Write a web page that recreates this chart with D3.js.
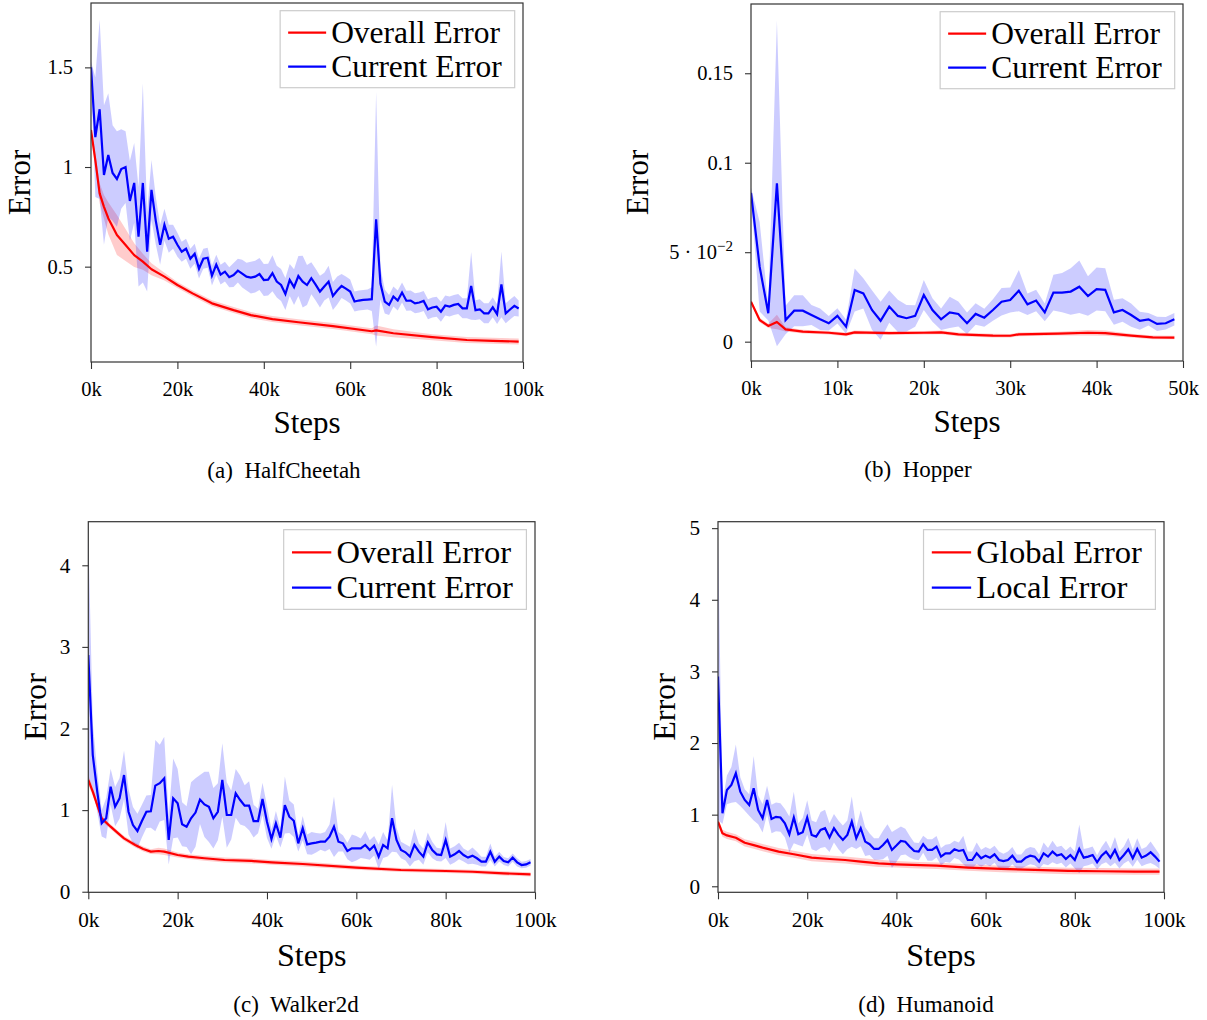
<!DOCTYPE html>
<html><head><meta charset="utf-8">
<script src="https://cdn.jsdelivr.net/npm/d3@7"></script>
<style>
body{margin:0;background:#fff}
svg{display:block}
text{font-family:"Liberation Serif","Times New Roman",Times,serif;fill:#000}
</style>
</head><body>
<svg id="chart" width="1207" height="1020"></svg>
<script>
// ---------- DATA ----------
// step grid (thousands of steps) for the "current/local" error series
const steps1k = d3.range(0, 100);      // 0k..99k
const steps1kHalf = d3.range(0, 50);   // 0k..49k

// (a) HalfCheetah
const aBlue = [1.50,1.15,1.29,0.96,1.06,0.97,0.94,0.99,1.00,0.83,
 0.92,0.65,0.92,0.575,0.885,0.73,0.61,0.71,0.64,0.65,
 0.61,0.575,0.59,0.54,0.565,0.49,0.54,0.545,0.455,0.51,
 0.46,0.475,0.447,0.458,0.48,0.465,0.45,0.445,0.45,0.463,
 0.433,0.435,0.467,0.425,0.408,0.363,0.433,0.397,0.453,0.425,
 0.408,0.442,0.41,0.375,0.40,0.425,0.353,0.38,0.403,0.39,
 0.375,0.325,0.33,0.333,0.335,0.337,0.738,0.415,0.325,0.308,
 0.35,0.33,0.37,0.329,0.33,0.316,0.32,0.328,0.286,0.295,
 0.299,0.274,0.305,0.30,0.308,0.313,0.291,0.291,0.403,0.282,
 0.286,0.266,0.266,0.296,0.262,0.411,0.266,0.285,0.303,0.29];
const aBlueSd = [0.03,0.3,0.45,0.35,0.31,0.24,0.24,0.2,0.18,0.2,
 0.2,0.25,0.5,0.2,0.15,0.12,0.1,0.08,0.07,0.06,
 0.06,0.05,0.05,0.05,0.05,0.05,0.05,0.05,0.05,0.05,
 0.05,0.05,0.05,0.06,0.06,0.07,0.07,0.08,0.08,0.08,
 0.08,0.08,0.09,0.08,0.08,0.08,0.08,0.09,0.1,0.13,
 0.1,0.08,0.08,0.08,0.07,0.08,0.07,0.07,0.06,0.06,
 0.06,0.05,0.05,0.05,0.05,0.06,0.64,0.08,0.06,0.05,
 0.05,0.05,0.05,0.05,0.05,0.05,0.05,0.05,0.05,0.05,
 0.05,0.05,0.05,0.05,0.05,0.05,0.05,0.05,0.17,0.05,
 0.05,0.05,0.05,0.05,0.05,0.165,0.05,0.05,0.05,0.04];
const aRedSteps = [0,1,2,3,4,6,8,10,12,14,17,20,23.5,28,33,37,42,48,56,65,66,70,79,87,93,99];
const aRed = [1.186,1.035,0.868,0.80,0.743,0.659,0.609,0.558,0.525,0.487,0.45,0.408,0.366,0.316,0.282,0.257,0.237,0.221,0.202,0.176,0.18,0.166,0.146,0.132,0.128,0.124];
const aRedSd = [0.02,0.03,0.05,0.06,0.08,0.1,0.08,0.06,0.04,0.03,0.02,0.015,0.015,0.015,0.015,0.015,0.015,0.015,0.015,0.015,0.025,0.02,0.015,0.015,0.015,0.015];

// (b) Hopper
const bBlue = [0.0832,0.0419,0.0159,0.0885,0.0121,0.0173,0.0173,0.0149,0.0125,0.0103,
 0.0144,0.0084,0.0289,0.027,0.0177,0.0117,0.0196,0.0144,0.0131,0.0144,
 0.0261,0.0177,0.0125,0.0164,0.0155,0.0103,0.0155,0.0134,0.0177,0.0223,
 0.0233,0.0285,0.0209,0.023,0.0164,0.0274,0.0274,0.028,0.0307,0.0255,
 0.0294,0.029,0.0164,0.0177,0.0149,0.0117,0.0125,0.0099,0.0103,0.0125];
const bBlueSd = [0.003,0.025,0.004,0.091,0.008,0.0087,0.0087,0.0056,0.006,0.004,
 0.0043,0.004,0.012,0.0085,0.011,0.0106,0.009,0.009,0.0074,0.006,
 0.0084,0.0065,0.006,0.0087,0.007,0.006,0.006,0.005,0.006,0.0077,
 0.007,0.0115,0.006,0.006,0.005,0.01,0.011,0.013,0.0147,0.011,
 0.012,0.012,0.007,0.0065,0.0065,0.005,0.0035,0.004,0.0035,0.0035];
const bRedSteps = [0,1,2,3,4,6,9,11,12,16,20,22,24,28,30,31,35.5,39,41,44,46.5,49];
const bRed = [0.0223,0.0121,0.0088,0.011,0.0069,0.0056,0.005,0.0041,0.0052,0.0048,0.005,0.0052,0.0041,0.0034,0.0033,0.0041,0.0045,0.005,0.0048,0.0034,0.0024,0.0023];
const bRedSd = [0.001,0.0012,0.0012,0.004,0.0012,0.001,0.001,0.001,0.001,0.001,0.001,0.001,0.001,0.001,0.001,0.001,0.001,0.0015,0.0015,0.001,0.001,0.001];

// (c) Walker2d
const cBlue = [2.90,1.675,1.226,0.838,0.90,1.287,1.042,1.144,1.43,0.98,
 0.817,0.744,0.866,0.98,0.985,1.30,1.33,1.39,0.634,1.144,
 1.083,0.826,0.797,0.90,0.97,1.13,1.07,1.04,0.90,0.98,
 1.369,0.94,0.94,1.205,1.124,1.054,1.054,0.866,0.866,1.136,
 0.858,0.646,0.838,0.662,1.062,0.919,0.87,0.593,0.777,0.58,
 0.593,0.601,0.613,0.613,0.674,0.797,0.613,0.593,0.499,0.532,
 0.532,0.532,0.573,0.511,0.564,0.43,0.573,0.532,0.90,0.634,
 0.511,0.483,0.43,0.573,0.491,0.43,0.605,0.511,0.458,0.45,
 0.634,0.43,0.458,0.499,0.45,0.418,0.442,0.41,0.368,0.368,
 0.49,0.368,0.43,0.377,0.36,0.418,0.36,0.327,0.335,0.36];
const cBlueSd = [1.5,0.4,0.25,0.16,0.25,0.22,0.24,0.25,0.3,0.28,
 0.22,0.21,0.2,0.2,0.2,0.56,0.47,0.51,0.3,0.49,
 0.42,0.27,0.25,0.44,0.42,0.3,0.4,0.43,0.37,0.35,
 0.45,0.4,0.3,0.3,0.3,0.25,0.3,0.2,0.15,0.2,
 0.2,0.12,0.15,0.12,0.35,0.2,0.2,0.1,0.15,0.12,
 0.14,0.12,0.1,0.12,0.15,0.37,0.12,0.1,0.1,0.17,
 0.15,0.12,0.17,0.12,0.12,0.15,0.16,0.1,0.41,0.15,
 0.1,0.1,0.12,0.2,0.1,0.1,0.12,0.1,0.08,0.08,
 0.22,0.1,0.1,0.1,0.08,0.08,0.1,0.08,0.06,0.06,
 0.1,0.06,0.06,0.05,0.05,0.05,0.05,0.04,0.04,0.04];
const cRedSteps = [0,1,2,3,5,6.7,8,10.5,12.3,14,15.7,17,20,22.4,26,30.5,36.5,41,48,60,70,80,86,93,99];
const cRed = [1.369,1.226,1.062,0.899,0.797,0.715,0.654,0.573,0.524,0.491,0.499,0.491,0.45,0.43,0.41,0.389,0.377,0.36,0.34,0.295,0.266,0.254,0.245,0.225,0.213];
const cRedSd = [0.06,0.05,0.04,0.03,0.03,0.03,0.03,0.03,0.03,0.03,0.04,0.04,0.03,0.03,0.03,0.03,0.03,0.03,0.03,0.025,0.025,0.025,0.025,0.025,0.025];

// (d) Humanoid
const dBlue = [2.93,1.02,1.345,1.415,1.578,1.321,1.205,1.135,1.369,1.066,
 0.95,1.205,0.94,0.97,0.96,0.88,0.726,0.96,0.726,0.754,
 0.96,0.717,0.694,0.786,0.81,0.68,0.81,0.717,0.647,0.717,
 0.903,0.67,0.81,0.624,0.587,0.521,0.521,0.577,0.647,0.507,
 0.568,0.633,0.623,0.553,0.493,0.484,0.587,0.507,0.507,0.553,
 0.414,0.46,0.46,0.516,0.493,0.507,0.367,0.367,0.46,0.391,
 0.428,0.40,0.447,0.367,0.353,0.367,0.428,0.344,0.344,0.40,
 0.428,0.414,0.344,0.46,0.414,0.484,0.428,0.447,0.381,0.437,
 0.367,0.521,0.40,0.414,0.437,0.335,0.428,0.484,0.40,0.507,
 0.367,0.437,0.516,0.391,0.521,0.40,0.428,0.475,0.414,0.344];
const dBlueSd = [2.0,0.15,0.2,0.25,0.4,0.2,0.15,0.15,0.45,0.2,
 0.2,0.2,0.2,0.2,0.2,0.2,0.25,0.36,0.15,0.2,
 0.24,0.2,0.2,0.25,0.26,0.2,0.2,0.2,0.2,0.2,
 0.35,0.15,0.25,0.2,0.15,0.15,0.15,0.2,0.22,0.25,
 0.23,0.2,0.18,0.15,0.12,0.12,0.12,0.15,0.15,0.15,
 0.12,0.12,0.13,0.12,0.12,0.2,0.12,0.12,0.15,0.12,
 0.12,0.12,0.12,0.12,0.1,0.12,0.12,0.1,0.1,0.12,
 0.12,0.12,0.1,0.15,0.12,0.15,0.12,0.12,0.12,0.12,
 0.12,0.34,0.12,0.12,0.12,0.1,0.12,0.15,0.12,0.18,
 0.12,0.12,0.16,0.12,0.15,0.12,0.12,0.15,0.12,0.1];
const dRedSteps = [0,1,2,4,6,8,10,13.6,17,21,25,28.5,32,36,40,43.5,49,56,63.5,71,78.5,86,93.5,99];
const dRed = [0.902,0.74,0.71,0.677,0.607,0.575,0.54,0.484,0.447,0.40,0.381,0.367,0.344,0.32,0.307,0.298,0.288,0.261,0.242,0.228,0.214,0.21,0.205,0.205];
const dRedSd = [0.05,0.05,0.05,0.05,0.05,0.05,0.05,0.05,0.05,0.05,0.05,0.05,0.05,0.05,0.045,0.045,0.045,0.045,0.045,0.045,0.045,0.045,0.045,0.045];

// ticks & labels
const xTicks100 = [0,20,40,60,80,100];
const xTicks50 = [0,10,20,30,40,50];
const aYTicks = [0.5,1,1.5];
const bYTicks = [0,0.05,0.1,0.15];
const bYTickLabels = ["0","5·10^−2","0.1","0.15"];
const cYTicks = [0,1,2,3,4];
const dYTicks = [0,1,2,3,4,5];
const legendAC = ["Overall Error","Current Error"];
const legendD = ["Global Error","Local Error"];
const captions = ["(a)  HalfCheetah","(b)  Hopper","(c)  Walker2d","(d)  Humanoid"];
const xLabel = "Steps", yLabel = "Error";

// ---------- LAYOUT ----------
const SERIF = '"Liberation Serif","Times New Roman",Times,serif';
const panels = [
 {left:91,right:523,top:3,bottom:362,xMax:100,xTicks:xTicks100,yDomain:[0.0216,1.823],yTicks:aYTicks,
  steps:steps1k,blue:aBlue,blueSd:aBlueSd,redSteps:aRedSteps,red:aRed,redSd:aRedSd,
  legend:legendAC,caption:captions[0],capX:284,yLabX:30,s:1},
 {left:751,right:1183,top:4,bottom:361,xMax:50,xTicks:xTicks50,yDomain:[-0.0108,0.1887],yTicks:bYTicks,yTickLabels:bYTickLabels,
  steps:steps1kHalf,blue:bBlue,blueSd:bBlueSd,redSteps:bRedSteps,red:bRed,redSd:bRedSd,
  legend:legendAC,caption:captions[1],capX:918,yLabX:648,s:1},
 {left:88.3,right:535,top:521.7,bottom:892.3,xMax:100,xTicks:xTicks100,yDomain:[-0.007,4.534],yTicks:cYTicks,
  steps:steps1k,blue:cBlue,blueSd:cBlueSd,redSteps:cRedSteps,red:cRed,redSd:cRedSd,
  legend:legendAC,caption:captions[2],capX:296,yLabX:46,s:1.035},
 {left:718,right:1164,top:521.7,bottom:892.3,xMax:100,xTicks:xTicks100,yDomain:[-0.084,5.09],yTicks:dYTicks,
  steps:steps1k,blue:dBlue,blueSd:dBlueSd,redSteps:dRedSteps,red:dRed,redSd:dRedSd,
  legend:legendD,caption:captions[3],capX:926,yLabX:675,s:1.035}
];

const svg = d3.select("#chart");
const RED = "#ff0000", BLUE = "#0000ff", AXC = "#333";

panels.forEach((p, pi) => {
  const s = p.s;
  const g = svg.append("g").attr("font-family", SERIF);
  const x = d3.scaleLinear().domain([0, p.xMax]).range([p.left, p.right]);
  const y = d3.scaleLinear().domain(p.yDomain).range([p.bottom, p.top]);

  const clipId = "clip" + pi;
  svg.append("clipPath").attr("id", clipId).append("rect")
    .attr("x", p.left).attr("y", p.top).attr("width", p.right - p.left).attr("height", p.bottom - p.top);

  const blueData = p.steps.map((st, i) => ({s: st, v: p.blue[i], sd: p.blueSd[i]}));
  const redData = p.redSteps.map((st, i) => ({s: st, v: p.red[i], sd: p.redSd[i]}));

  const area = d3.area().x(d => x(d.s)).y0(d => y(d.v - d.sd)).y1(d => y(d.v + d.sd));
  const line = d3.line().x(d => x(d.s)).y(d => y(d.v));

  const plot = g.append("g").attr("clip-path", `url(#${clipId})`);
  plot.append("path").datum(redData).attr("d", area).attr("fill", RED).attr("fill-opacity", 0.2);
  plot.append("path").datum(blueData).attr("d", area).attr("fill", BLUE).attr("fill-opacity", 0.2);
  plot.append("path").datum(redData).attr("d", line).attr("fill", "none").attr("stroke", RED)
      .attr("stroke-width", 2.2).attr("stroke-linejoin", "round");
  plot.append("path").datum(blueData).attr("d", line).attr("fill", "none").attr("stroke", BLUE)
      .attr("stroke-width", 2.2).attr("stroke-linejoin", "miter");

  const tickFs = 20.5 * s;
  // x axis
  const xa = g.append("g").attr("transform", `translate(0,${p.bottom})`)
    .call(d3.axisBottom(x).tickValues(p.xTicks).tickFormat(d => d + "k").tickSize(7).tickSizeOuter(0).tickPadding(12.5 * s));
  xa.attr("font-family", SERIF).attr("font-size", tickFs);
  xa.select(".domain").remove();
  xa.selectAll(".tick line").attr("stroke", AXC).attr("stroke-width", 1.1);
  xa.selectAll("text").attr("fill", "#000");
  // y axis
  const ya = g.append("g").attr("transform", `translate(${p.left},0)`)
    .call(d3.axisLeft(y).tickValues(p.yTicks).tickFormat(d => String(d)).tickSize(6).tickSizeOuter(0).tickPadding(12));
  ya.attr("font-family", SERIF).attr("font-size", tickFs);
  ya.select(".domain").remove();
  ya.selectAll(".tick line").attr("stroke", AXC).attr("stroke-width", 1.1);
  ya.selectAll("text").attr("fill", "#000");
  if (p.yTickLabels) {
    ya.selectAll(".tick text").each(function(d, i) {
      const lab = p.yTickLabels[i];
      const t = d3.select(this);
      if (lab.includes("^")) {
        const [base, sup] = lab.split("^");
        t.text(null);
        t.append("tspan").text(base.replace("·", " · "));
        t.append("tspan").attr("dy", -8).attr("font-size", 15).text(sup);
      } else t.text(lab);
    });
  }

  // frame
  g.append("rect").attr("x", p.left).attr("y", p.top).attr("width", p.right - p.left).attr("height", p.bottom - p.top)
    .attr("fill", "none").attr("stroke", AXC).attr("stroke-width", 1.2);

  // axis labels
  g.append("text").attr("x", (p.left + p.right) / 2).attr("y", p.bottom + 71 * s)
    .attr("text-anchor", "middle").attr("font-size", 31 * s).text(xLabel);
  g.append("text").attr("transform", `translate(${p.yLabX},${(p.top + p.bottom) / 2}) rotate(-90)`)
    .attr("text-anchor", "middle").attr("font-size", 31 * s).text(yLabel);

  // caption
  g.append("text").attr("x", p.capX).attr("y", p.bottom + 116 * s).attr("text-anchor", "middle")
    .attr("font-size", 23).style("white-space", "pre").text(p.caption);

  // legend
  const lg = g.append("g");
  const lfs = 31.5 * s;
  const lTop = p.top + 7.7 * s, lH = 77 * s;
  const texts = [];
  const box = lg.append("rect").attr("fill", "#fff").attr("stroke", "#cccccc").attr("stroke-width", 1.2);
  const cols = [RED, BLUE];
  p.legend.forEach((lab, i) => {
    const cy = lTop + 22 * s + i * 34 * s;
    const li = lg.append("line").attr("y1", cy).attr("y2", cy).attr("stroke", cols[i]).attr("stroke-width", 2.2);
    const tx = lg.append("text").attr("y", cy + 10 * s).attr("font-size", lfs).text(lab);
    texts.push({li, tx});
  });
  const maxW = d3.max(texts, t => t.tx.node().getComputedTextLength());
  const padL = 8 * s, lineLen = 38 * s, gap = 5 * s, padR = 13 * s;
  const bRight = p.right - 8.3 * s;
  const bW = padL + lineLen + gap + maxW + padR;
  const bLeft = bRight - bW;
  box.attr("x", bLeft).attr("y", lTop).attr("width", bW).attr("height", lH);
  texts.forEach(t => {
    t.li.attr("x1", bLeft + padL).attr("x2", bLeft + padL + lineLen);
    t.tx.attr("x", bLeft + padL + lineLen + gap);
  });
});
</script>
</body></html>
